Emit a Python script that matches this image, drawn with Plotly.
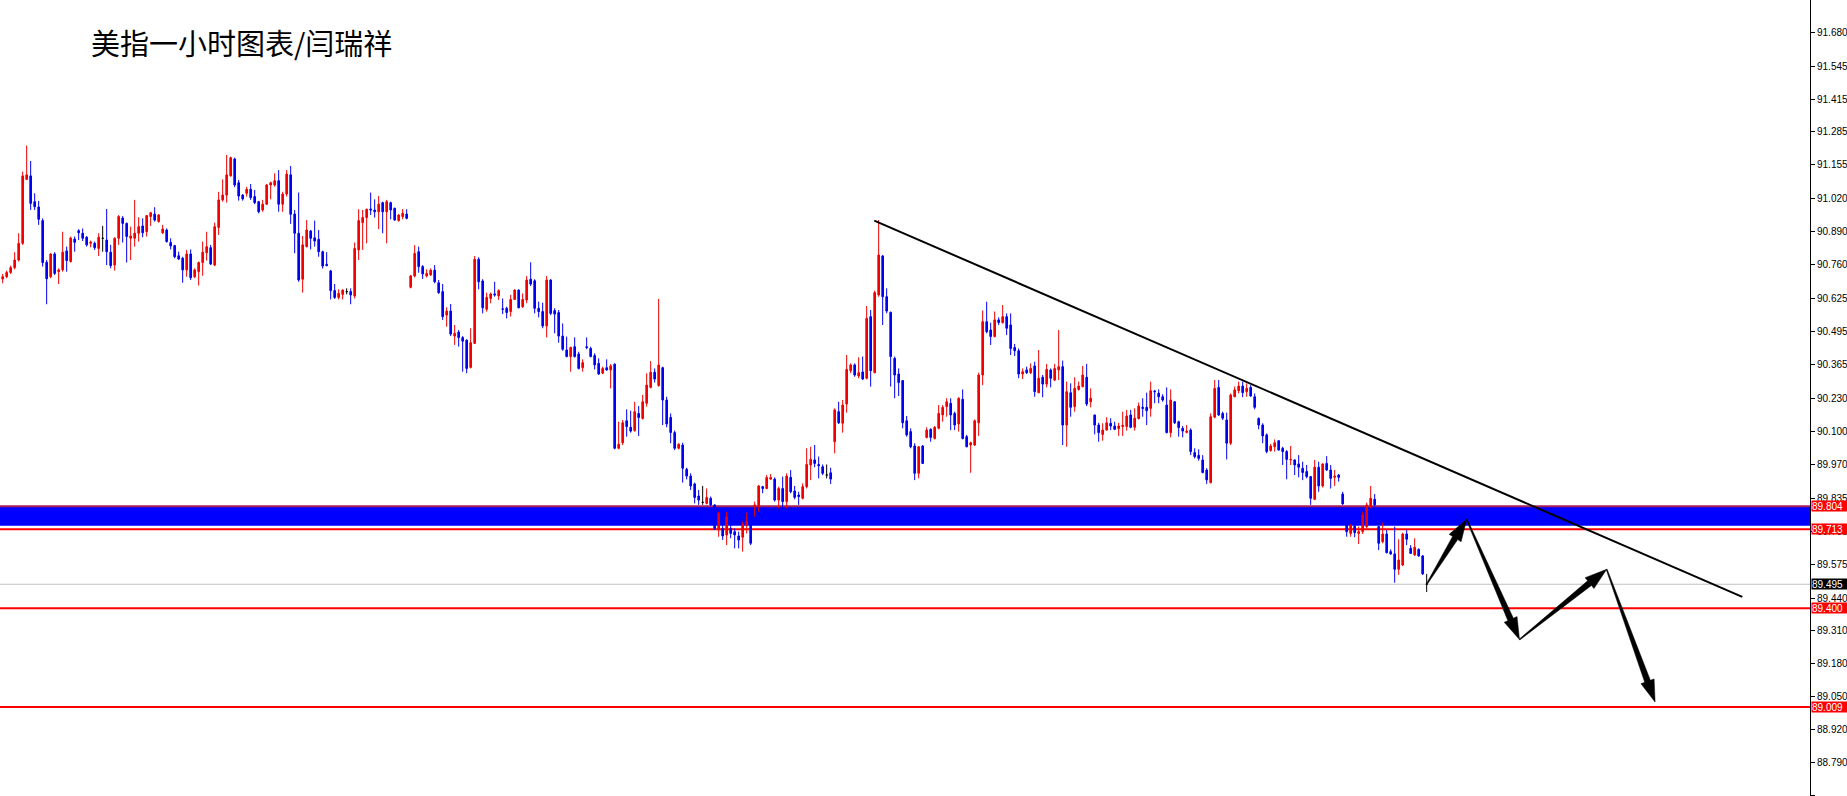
import numpy as np
import plotly.graph_objects as go

title_text = "美指一小时图表/闫瑞祥"

opens = [
90.703, 90.712, 90.729, 90.748, 90.778, 90.844, 91.097, 91.111, 91.009, 90.988,
90.934, 90.769, 90.712, 90.802, 90.732, 90.739, 90.814, 90.772, 90.861, 90.894,
90.884, 90.868, 90.844, 90.844, 90.824, 90.864, 90.857, 90.809, 90.758, 90.864,
90.944, 90.923, 90.864, 90.864, 90.884, 90.913, 90.890, 90.950, 90.960, 90.930,
90.886, 90.897, 90.847, 90.835, 90.795, 90.785, 90.739, 90.802, 90.712, 90.732,
90.768, 90.807, 90.827, 90.758, 90.907, 91.016, 91.035, 91.111, 91.178, 91.084,
91.035, 91.042, 91.058, 91.029, 91.009, 90.976, 90.999, 91.075, 91.075, 91.092,
90.999, 91.039, 91.115, 90.960, 90.884, 90.702, 90.831, 90.893, 90.866, 90.860,
90.811, 90.761, 90.735, 90.657, 90.630, 90.642, 90.653, 90.653, 90.636, 90.818,
90.926, 90.946, 90.980, 90.976, 90.969, 91.005, 90.969, 91.005, 90.983, 90.934,
90.950, 90.960, 90.670, 90.715, 90.811, 90.752, 90.715, 90.719, 90.738, 90.688,
90.653, 90.560, 90.576, 90.477, 90.493, 90.471, 90.461, 90.353, 90.448, 90.781,
90.695, 90.583, 90.626, 90.644, 90.636, 90.585, 90.587, 90.574, 90.622, 90.659,
90.593, 90.620, 90.702, 90.696, 90.587, 90.574, 90.517, 90.699, 90.578, 90.570,
90.477, 90.422, 90.396, 90.435, 90.406, 90.352, 90.435, 90.428, 90.400, 90.369,
90.330, 90.352, 90.343, 90.366, 90.033, 90.055, 90.142, 90.116, 90.103, 90.171,
90.151, 90.211, 90.274, 90.334, 90.281, 90.352, 90.224, 90.155, 90.095, 90.033,
90.046, 89.950, 89.923, 89.892, 89.844, 89.819, 89.815, 89.835, 89.809, 89.710,
89.716, 89.690, 89.716, 89.703, 89.686, 89.681, 89.729, 89.729, 89.802, 89.805,
89.881, 89.874, 89.911, 89.911, 89.828, 89.874, 89.822, 89.918, 89.864, 89.848,
89.835, 89.881, 89.967, 89.987, 89.969, 89.960, 89.927, 89.936, 90.059, 90.178,
90.132, 90.208, 90.340, 90.363, 90.319, 90.335, 90.310, 90.554, 90.332, 90.640,
90.794, 90.633, 90.571, 90.389, 90.327, 90.301, 90.142, 90.099, 90.042, 89.934,
90.042, 90.076, 90.108, 90.072, 90.112, 90.165, 90.198, 90.211, 90.171, 90.129,
90.227, 90.079, 90.046, 90.046, 90.134, 90.323, 90.534, 90.501, 90.475, 90.541,
90.530, 90.554, 90.521, 90.432, 90.419, 90.327, 90.343, 90.332, 90.359, 90.253,
90.314, 90.287, 90.343, 90.303, 90.343, 90.356, 90.125, 90.253, 90.198, 90.266,
90.277, 90.314, 90.217, 90.165, 90.125, 90.088, 90.105, 90.132, 90.121, 90.111,
90.119, 90.119, 90.165, 90.116, 90.150, 90.195, 90.195, 90.191, 90.260, 90.251,
90.237, 90.204, 90.095, 90.217, 90.138, 90.112, 90.096, 90.105, 90.016, 90.005,
89.987, 89.947, 89.897, 90.156, 90.274, 90.171, 90.145, 90.053, 90.237, 90.261,
90.279, 90.257, 90.274, 90.237, 90.151, 90.125, 90.086, 90.024, 90.039, 90.063,
90.033, 90.020, 89.987, 89.987, 89.971, 89.954, 89.941, 89.921, 89.831, 89.958,
89.884, 89.973, 89.947, 89.918, 89.927, 89.852, 89.729, 89.696, 89.725, 89.696,
89.703, 89.723, 89.802, 89.831, 89.723, 89.663, 89.694, 89.624, 89.615, 89.554,
89.571, 89.694, 89.637, 89.611, 89.633, 89.607, 89.495]

highs = [
90.723, 90.736, 90.756, 90.809, 90.884, 91.128, 91.231, 91.170, 91.042, 91.012,
90.943, 90.778, 90.805, 90.809, 90.745, 90.890, 90.831, 90.871, 90.871, 90.900,
90.903, 90.873, 90.855, 90.851, 90.884, 90.913, 90.980, 90.838, 90.868, 90.956,
90.952, 90.926, 90.910, 91.016, 90.947, 90.943, 90.956, 90.969, 90.987, 90.960,
90.917, 90.903, 90.864, 90.838, 90.811, 90.791, 90.818, 90.820, 90.745, 90.772,
90.851, 90.890, 90.838, 90.926, 91.048, 91.097, 91.194, 91.187, 91.183, 91.095,
91.039, 91.068, 91.079, 91.055, 91.012, 91.016, 91.079, 91.088, 91.121, 91.134,
91.048, 91.134, 91.150, 90.976, 91.045, 90.873, 90.936, 90.897, 90.934, 90.897,
90.815, 90.809, 90.739, 90.683, 90.662, 90.662, 90.666, 90.666, 90.847, 90.979,
90.976, 90.981, 91.045, 91.018, 91.031, 91.009, 91.016, 91.009, 90.985, 90.960,
90.980, 90.979, 90.719, 90.837, 90.831, 90.758, 90.741, 90.745, 90.758, 90.699,
90.683, 90.591, 90.604, 90.521, 90.501, 90.477, 90.464, 90.508, 90.794, 90.789,
90.702, 90.649, 90.649, 90.692, 90.662, 90.626, 90.593, 90.640, 90.662, 90.662,
90.646, 90.715, 90.769, 90.702, 90.613, 90.609, 90.715, 90.702, 90.587, 90.580,
90.527, 90.475, 90.435, 90.472, 90.415, 90.385, 90.472, 90.435, 90.409, 90.389,
90.356, 90.385, 90.366, 90.369, 90.138, 90.145, 90.187, 90.182, 90.217, 90.200,
90.244, 90.330, 90.378, 90.349, 90.624, 90.356, 90.237, 90.171, 90.103, 90.053,
90.055, 89.956, 89.934, 89.897, 89.868, 89.884, 89.874, 89.842, 89.811, 89.782,
89.729, 89.782, 89.729, 89.716, 89.703, 89.743, 89.778, 89.739, 89.822, 89.888,
89.884, 89.927, 89.931, 89.918, 89.881, 89.921, 89.934, 89.947, 89.884, 89.861,
89.894, 90.033, 90.039, 90.046, 90.000, 89.969, 89.969, 89.956, 90.191, 90.217,
90.224, 90.402, 90.369, 90.369, 90.393, 90.396, 90.596, 90.580, 90.657, 90.936,
90.798, 90.666, 90.574, 90.396, 90.349, 90.303, 90.161, 90.112, 90.053, 90.042,
90.046, 90.116, 90.112, 90.121, 90.204, 90.204, 90.231, 90.231, 90.178, 90.235,
90.266, 90.086, 90.059, 90.147, 90.332, 90.578, 90.613, 90.530, 90.574, 90.551,
90.600, 90.567, 90.567, 90.446, 90.428, 90.349, 90.356, 90.369, 90.376, 90.422,
90.323, 90.367, 90.349, 90.367, 90.501, 90.380, 90.297, 90.290, 90.314, 90.297,
90.359, 90.367, 90.270, 90.165, 90.134, 90.132, 90.156, 90.152, 90.138, 90.134,
90.178, 90.185, 90.185, 90.191, 90.214, 90.231, 90.253, 90.297, 90.264, 90.266,
90.247, 90.274, 90.266, 90.220, 90.142, 90.121, 90.125, 90.112, 90.033, 90.029,
90.006, 89.954, 90.171, 90.303, 90.303, 90.178, 90.174, 90.250, 90.277, 90.297,
90.297, 90.290, 90.283, 90.250, 90.155, 90.132, 90.092, 90.050, 90.068, 90.066,
90.039, 90.026, 90.042, 89.989, 90.006, 89.980, 89.967, 89.923, 89.987, 89.980,
89.973, 90.002, 89.967, 89.947, 89.931, 89.861, 89.736, 89.733, 89.733, 89.723,
89.782, 89.818, 89.884, 89.852, 89.725, 89.739, 89.710, 89.633, 89.723, 89.673,
89.699, 89.710, 89.650, 89.677, 89.637, 89.611, 89.536]

lows = [
90.686, 90.706, 90.723, 90.741, 90.772, 90.838, 91.095, 90.976, 90.976, 90.917,
90.752, 90.603, 90.706, 90.719, 90.683, 90.732, 90.732, 90.768, 90.811, 90.857,
90.853, 90.831, 90.828, 90.818, 90.794, 90.811, 90.758, 90.745, 90.736, 90.838,
90.847, 90.768, 90.778, 90.831, 90.851, 90.868, 90.871, 90.913, 90.930, 90.926,
90.881, 90.847, 90.820, 90.785, 90.778, 90.688, 90.712, 90.699, 90.706, 90.677,
90.716, 90.776, 90.758, 90.754, 90.877, 91.009, 91.005, 91.108, 91.066, 91.013,
91.013, 91.029, 91.016, 90.999, 90.963, 90.969, 90.996, 91.018, 91.068, 90.969,
90.969, 91.029, 90.921, 90.805, 90.692, 90.649, 90.828, 90.820, 90.831, 90.791,
90.744, 90.753, 90.622, 90.624, 90.622, 90.622, 90.642, 90.603, 90.626, 90.778,
90.818, 90.844, 90.956, 90.946, 90.901, 90.884, 90.844, 90.939, 90.934, 90.930,
90.939, 90.939, 90.666, 90.709, 90.728, 90.703, 90.709, 90.715, 90.686, 90.644,
90.541, 90.514, 90.477, 90.442, 90.435, 90.336, 90.330, 90.349, 90.446, 90.662,
90.567, 90.574, 90.607, 90.633, 90.620, 90.564, 90.547, 90.554, 90.620, 90.587,
90.589, 90.607, 90.675, 90.567, 90.551, 90.508, 90.472, 90.560, 90.488, 90.451,
90.419, 90.393, 90.336, 90.392, 90.345, 90.336, 90.425, 90.393, 90.345, 90.323,
90.327, 90.340, 90.270, 90.029, 90.029, 90.046, 90.079, 90.095, 90.099, 90.082,
90.147, 90.198, 90.270, 90.293, 90.277, 90.125, 90.116, 90.053, 90.026, 90.029,
89.897, 89.910, 89.868, 89.815, 89.809, 89.809, 89.811, 89.805, 89.710, 89.683,
89.670, 89.650, 89.677, 89.637, 89.637, 89.624, 89.696, 89.650, 89.762, 89.782,
89.855, 89.871, 89.907, 89.822, 89.795, 89.795, 89.795, 89.855, 89.831, 89.809,
89.831, 89.874, 89.907, 89.958, 89.914, 89.927, 89.914, 89.892, 90.013, 90.129,
90.095, 90.174, 90.330, 90.316, 90.310, 90.303, 90.306, 90.277, 90.330, 90.633,
90.521, 90.567, 90.277, 90.231, 90.240, 90.112, 90.079, 90.033, 89.907, 89.914,
89.971, 90.072, 90.059, 90.068, 90.108, 90.138, 90.158, 90.105, 90.105, 90.099,
90.068, 90.037, 89.936, 90.042, 90.082, 90.283, 90.488, 90.442, 90.472, 90.521,
90.527, 90.481, 90.402, 90.398, 90.310, 90.307, 90.327, 90.327, 90.237, 90.251,
90.235, 90.274, 90.274, 90.299, 90.303, 90.046, 90.039, 90.158, 90.178, 90.261,
90.274, 90.200, 90.195, 90.088, 90.059, 90.063, 90.103, 90.105, 90.105, 90.082,
90.082, 90.103, 90.112, 90.103, 90.148, 90.158, 90.125, 90.158, 90.211, 90.211,
90.217, 90.092, 90.076, 90.129, 90.079, 90.076, 90.092, 90.006, 89.993, 89.984,
89.934, 89.892, 89.894, 90.152, 90.161, 90.145, 89.989, 90.046, 90.235, 90.250,
90.235, 90.237, 90.237, 90.187, 90.108, 90.053, 90.013, 90.020, 90.020, 90.024,
89.967, 89.910, 89.967, 89.927, 89.918, 89.907, 89.914, 89.809, 89.828, 89.861,
89.878, 89.944, 89.874, 89.884, 89.901, 89.809, 89.683, 89.683, 89.681, 89.654,
89.694, 89.716, 89.795, 89.802, 89.630, 89.657, 89.617, 89.611, 89.501, 89.532,
89.567, 89.650, 89.615, 89.607, 89.604, 89.532, 89.464]

closes = [
90.712, 90.729, 90.748, 90.778, 90.844, 91.111, 91.115, 91.002, 90.989, 90.939,
90.768, 90.704, 90.802, 90.725, 90.739, 90.809, 90.776, 90.865, 90.848, 90.886,
90.864, 90.838, 90.849, 90.827, 90.868, 90.864, 90.811, 90.756, 90.864, 90.950,
90.923, 90.871, 90.873, 90.884, 90.910, 90.886, 90.954, 90.965, 90.936, 90.956,
90.901, 90.851, 90.834, 90.791, 90.782, 90.739, 90.802, 90.708, 90.739, 90.768,
90.809, 90.831, 90.762, 90.910, 91.016, 91.035, 91.115, 91.183, 91.075, 91.031,
91.020, 91.058, 91.025, 91.005, 90.969, 90.999, 91.075, 91.084, 91.092, 90.999,
91.039, 91.118, 90.959, 90.884, 90.699, 90.838, 90.897, 90.864, 90.853, 90.811,
90.754, 90.756, 90.657, 90.630, 90.646, 90.659, 90.653, 90.640, 90.824, 90.934,
90.946, 90.979, 90.976, 90.969, 90.999, 90.969, 91.009, 90.976, 90.936, 90.956,
90.963, 90.943, 90.715, 90.804, 90.752, 90.723, 90.725, 90.738, 90.692, 90.649,
90.554, 90.576, 90.485, 90.488, 90.471, 90.457, 90.349, 90.451, 90.781, 90.692,
90.589, 90.630, 90.644, 90.640, 90.657, 90.583, 90.570, 90.622, 90.659, 90.589,
90.622, 90.699, 90.683, 90.587, 90.574, 90.517, 90.699, 90.567, 90.564, 90.477,
90.425, 90.396, 90.432, 90.396, 90.349, 90.372, 90.432, 90.396, 90.363, 90.327,
90.349, 90.343, 90.359, 90.033, 90.049, 90.134, 90.119, 90.101, 90.178, 90.155,
90.217, 90.283, 90.334, 90.307, 90.363, 90.224, 90.129, 90.095, 90.033, 90.049,
89.954, 89.923, 89.884, 89.838, 89.828, 89.819, 89.838, 89.809, 89.716, 89.776,
89.686, 89.762, 89.696, 89.690, 89.670, 89.733, 89.743, 89.657, 89.809, 89.884,
89.874, 89.917, 89.917, 89.828, 89.874, 89.822, 89.923, 89.861, 89.839, 89.842,
89.881, 89.969, 89.989, 89.973, 89.964, 89.934, 89.927, 89.911, 90.185, 90.134,
90.204, 90.345, 90.363, 90.323, 90.332, 90.307, 90.547, 90.340, 90.649, 90.798,
90.633, 90.576, 90.396, 90.323, 90.293, 90.134, 90.086, 90.039, 89.934, 90.039,
89.973, 90.105, 90.076, 90.116, 90.171, 90.195, 90.217, 90.165, 90.125, 90.231,
90.072, 90.039, 90.055, 90.142, 90.323, 90.534, 90.494, 90.475, 90.541, 90.531,
90.554, 90.508, 90.428, 90.419, 90.327, 90.336, 90.332, 90.349, 90.257, 90.310,
90.287, 90.345, 90.310, 90.349, 90.356, 90.125, 90.257, 90.195, 90.270, 90.279,
90.323, 90.208, 90.231, 90.125, 90.095, 90.105, 90.134, 90.121, 90.108, 90.121,
90.124, 90.161, 90.116, 90.152, 90.200, 90.191, 90.182, 90.261, 90.257, 90.237,
90.224, 90.095, 90.224, 90.134, 90.115, 90.101, 90.101, 90.020, 90.000, 89.993,
89.937, 89.908, 90.158, 90.270, 90.165, 90.152, 90.053, 90.244, 90.264, 90.279,
90.253, 90.270, 90.240, 90.195, 90.125, 90.082, 90.020, 90.042, 90.055, 90.026,
90.020, 89.989, 89.989, 89.967, 89.958, 89.937, 89.921, 89.835, 89.958, 89.884,
89.971, 89.947, 89.914, 89.923, 89.918, 89.813, 89.703, 89.729, 89.699, 89.703,
89.769, 89.809, 89.835, 89.809, 89.657, 89.694, 89.620, 89.615, 89.554, 89.591,
89.694, 89.673, 89.617, 89.641, 89.607, 89.536, 89.495]

tick_values = [91.810, 91.680, 91.545, 91.415, 91.285, 91.155, 91.020, 90.890,
               90.760, 90.625, 90.495, 90.365, 90.230, 90.100, 89.970, 89.835,
               89.705, 89.575, 89.440, 89.310, 89.180, 89.050, 88.920, 88.790,
               88.660]
tick_labels = ["%.3f" % v for v in tick_values]

y_range = [88.657, 91.807]
x_range = [-0.667, 451.83]

band_top = 89.804
band_bottom = 89.726
level_prices = [89.713, 89.400, 89.009]
band_tag = 89.804
bid_price = 89.495

trend_x = [217.9, 434.9]
trend_y = [90.934, 89.445]

path_x = [356.0, 366.0, 379.2, 401.0, 413.1]
path_y = [89.495, 89.752, 89.276, 89.554, 89.029]

RED = "#F00000"
BLUE = "#0000F0"

FIG_W, FIG_H = 1847, 796
MARGIN_R = 37
PLOT_W = FIG_W - MARGIN_R
PLOT_H = FIG_H

o = np.array(opens)
h = np.array(highs)
l = np.array(lows)
c = np.array(closes)
x = np.arange(len(o))
doji = np.isclose(o, c)
nd = ~doji

fig = go.Figure()
fig.add_trace(go.Candlestick(
    x=x[nd], open=o[nd], high=h[nd], low=l[nd], close=c[nd],
    increasing=dict(line=dict(color=RED, width=1), fillcolor=RED),
    decreasing=dict(line=dict(color=BLUE, width=1), fillcolor=BLUE),
    whiskerwidth=0, hoverinfo="skip", showlegend=False))
fig.add_trace(go.Candlestick(
    x=x[doji], open=o[doji], high=h[doji], low=l[doji], close=c[doji],
    increasing=dict(line=dict(color="black", width=1), fillcolor="black"),
    decreasing=dict(line=dict(color="black", width=1), fillcolor="black"),
    whiskerwidth=0, hoverinfo="skip", showlegend=False))

shapes = []
shapes.append(dict(type="rect", xref="paper", x0=0, x1=1, yref="y",
                   y0=band_bottom, y1=band_top, fillcolor="#0000FF",
                   line=dict(width=0), layer="below"))
shapes.append(dict(type="line", xref="paper", x0=0, x1=1, yref="y",
                   y0=band_top, y1=band_top,
                   line=dict(color="#A8205A", width=2), layer="below"))
for p in level_prices:
    shapes.append(dict(type="line", xref="paper", x0=0, x1=1, yref="y",
                       y0=p, y1=p, line=dict(color="#FF0000", width=2),
                       layer="below"))
shapes.append(dict(type="line", xref="paper", x0=0, x1=1, yref="y",
                   y0=bid_price, y1=bid_price,
                   line=dict(color="#C0C0C0", width=1), layer="below"))
shapes.append(dict(type="line", xref="x", yref="y",
                   x0=trend_x[0], y0=trend_y[0], x1=trend_x[1], y1=trend_y[1],
                   line=dict(color="black", width=2)))

# tapered arrow polygons (geometry in screen pixels, mapped back to data)
sx = PLOT_W / (x_range[1] - x_range[0])
sy = PLOT_H / (y_range[1] - y_range[0])


def to_px(xv, yv):
    return np.array([(xv - x_range[0]) * sx, (y_range[1] - yv) * sy])


def to_data(p):
    return p[0] / sx + x_range[0], y_range[1] - p[1] / sy


HEAD_LEN, HEAD_HALF, SHAFT_HEAD, SHAFT_TAIL = 22.0, 7.0, 3.0, 0.5
for i in range(len(path_x) - 1):
    T = to_px(path_x[i], path_y[i])
    H = to_px(path_x[i + 1], path_y[i + 1])
    d = (H - T) / np.linalg.norm(H - T)
    nrm = np.array([-d[1], d[0]])
    B = H - d * HEAD_LEN
    pts = [T + nrm * SHAFT_TAIL, B + nrm * SHAFT_HEAD, B + nrm * HEAD_HALF, H,
           B - nrm * HEAD_HALF, B - nrm * SHAFT_HEAD, T - nrm * SHAFT_TAIL]
    dpts = [to_data(p) for p in pts]
    path = "M " + " L ".join("%.4f,%.5f" % q for q in dpts) + " Z"
    shapes.append(dict(type="path", xref="x", yref="y", path=path,
                       fillcolor="black", line=dict(color="black", width=0.5)))

annotations = []
annotations.append(dict(text=title_text, xref="paper", yref="paper",
                        x=89 / PLOT_W, y=1 - 42 / FIG_H, xanchor="left",
                        yanchor="middle", showarrow=False,
                        font=dict(family="Noto Sans CJK SC", size=29,
                                  color="black")))

tag_list = [(band_tag, "#FF0000"), (level_prices[0], "#FF0000"),
            (level_prices[1], "#FF0000"), (level_prices[2], "#FF0000"),
            (bid_price, "#000000")]
for val, col in tag_list:
    annotations.append(dict(
        text="%.3f" % val, xref="paper", x=1.0008, xanchor="left",
        yref="y", y=val, yanchor="middle", showarrow=False,
        bgcolor=col, borderpad=0, width=35, height=10, align="left",
        font=dict(family="Liberation Sans", size=10, color="white")))

fig.update_layout(
    width=FIG_W, height=FIG_H,
    margin=dict(l=0, r=MARGIN_R, t=0, b=0),
    paper_bgcolor="white", plot_bgcolor="white",
    showlegend=False, boxgap=0.42,
    shapes=shapes, annotations=annotations,
    xaxis=dict(range=x_range, visible=False, rangeslider=dict(visible=False),
               fixedrange=True),
    yaxis=dict(range=y_range, side="right", tickvals=tick_values,
               ticktext=tick_labels, ticks="outside", ticklen=4,
               tickcolor="black", tickwidth=1, showline=True,
               linecolor="black", linewidth=1, showgrid=False,
               zeroline=False, mirror=False,
               tickfont=dict(family="Liberation Sans", size=10,
                             color="black")),
)

fig.write_html("out.html",
               config={"displayModeBar": False},
               post_script="document.body.style.margin='0';"
                           "document.body.style.overflow='hidden';")
